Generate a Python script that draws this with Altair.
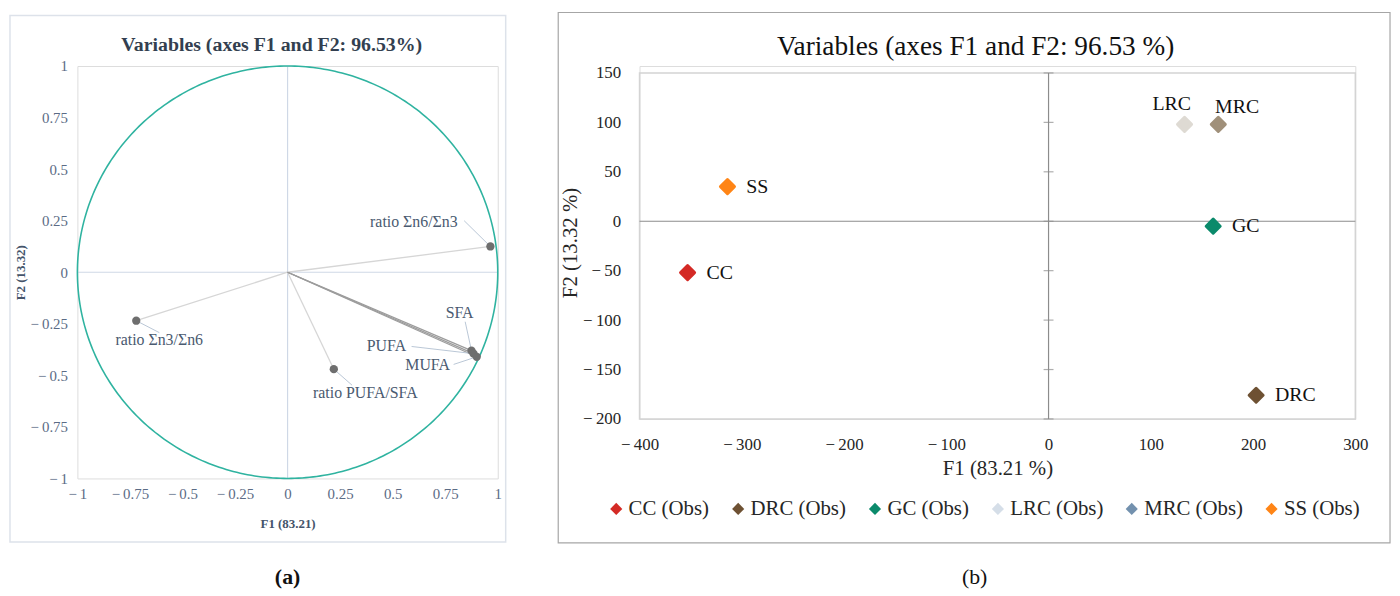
import altair as alt
import numpy as np
import pandas as pd

SERIF = "Liberation Serif"

# ---------------- Panel (a): correlation circle ----------------
var_names = ["ratio Σn6/Σn3", "ratio Σn3/Σn6", "ratio PUFA/SFA", "SFA", "PUFA", "MUFA"]
var_f1 = [0.965, -0.72, 0.22, 0.875, 0.885, 0.90]
var_f2 = [0.125, -0.235, -0.47, -0.38, -0.395, -0.41]
# leader-line anchor points on the label side (data units)
lead_f1 = [0.84, -0.61, 0.307, 0.845, 0.59, 0.79]
lead_f2 = [0.25, -0.293, -0.548, -0.24, -0.36, -0.447]
a_ticks = [-1, -0.75, -0.5, -0.25, 0, 0.25, 0.5, 0.75, 1]

# ---------------- Panel (b): observations ----------------
obs_names = ["CC", "DRC", "GC", "LRC", "MRC", "SS"]
obs_f1 = [-353, 203, 161, 133, 166, -314]
obs_f2 = [-52, -176, -5, 98, 98, 35]
point_colors = ["#D42A25", "#6E5133", "#0B8A6B", "#DEDAD3", "#A0907A", "#FF8516"]
legend_colors = ["#D42A25", "#6E5133", "#0B8A6B", "#D5DEE8", "#7391AE", "#FF8516"]
b_xticks = [-400, -300, -200, -100, 0, 100, 200, 300]
b_yticks = [-200, -150, -100, -50, 0, 50, 100, 150]

var_df = pd.DataFrame({"name": var_names, "f1": var_f1, "f2": var_f2,
                       "lx": lead_f1, "ly": lead_f2})
t = np.linspace(0, 2 * np.pi, 361)
circle_df = pd.DataFrame({"cx": np.cos(t), "cy": np.sin(t), "o": np.arange(len(t))})
obs_df = pd.DataFrame({"name": obs_names, "f1": obs_f1, "f2": obs_f2, "pcol": point_colors})
one = pd.DataFrame({"k": [0]})

MINUS = "datum.value < 0 ? '\u2212\u2009' + abs(datum.value) : '' + datum.value"

# ---------- panel (a) ----------
A_W, A_H = 424, 416
a_lab = "#4A5A70"
ax_a_x = alt.Axis(values=a_ticks, labelExpr=MINUS, domain=False, ticks=False, grid=False,
                  labelFlush=False, labelFont=SERIF, labelFontSize=15, labelColor="#5B6B85",
                  labelPadding=8, title="F1 (83.21)", titleFont=SERIF, titleFontSize=13,
                  titleFontWeight="bold", titleColor="#44546A", titlePadding=16)
ax_a_y = alt.Axis(values=a_ticks, labelExpr=MINUS, domain=False, ticks=False, grid=False,
                  labelFlush=False, labelFont=SERIF, labelFontSize=15, labelColor="#5B6B85",
                  labelPadding=10, title="F2 (13.32)", titleFont=SERIF, titleFontSize=13,
                  titleFontWeight="bold", titleColor="#44546A", titlePadding=3)
sx_a = alt.Scale(domain=[-1, 1], nice=False, zero=False)
sy_a = alt.Scale(domain=[-1, 1], nice=False, zero=False)


def XA(field=None, datum=None):
    if datum is not None:
        return alt.X(datum=datum, type="quantitative", scale=sx_a, axis=ax_a_x)
    return alt.X(field, type="quantitative", scale=sx_a, axis=ax_a_x)


def YA(field=None, datum=None):
    if datum is not None:
        return alt.Y(datum=datum, type="quantitative", scale=sy_a, axis=ax_a_y)
    return alt.Y(field, type="quantitative", scale=sy_a, axis=ax_a_y)


a_frame = alt.Chart(one).mark_rect(fillOpacity=0, stroke="#DDE2EA", strokeWidth=1.5).encode(
    x=alt.value(-68), x2=alt.value(432), y=alt.value(-51), y2=alt.value(480))
a_title = alt.Chart(one).mark_text(font=SERIF, fontSize=20, fontWeight="bold", color="#333F50").encode(
    x=alt.value(196), y=alt.value(-21), text=alt.value("Variables (axes F1 and F2: 96.53%)"))
a_caption = alt.Chart(one).mark_text(font=SERIF, fontSize=22, fontWeight="bold", color="#111111").encode(
    x=alt.value(212), y=alt.value(515), text=alt.value("(a)"))

zero_v = alt.Chart(one).mark_rule(color="#CFD8E6", strokeWidth=1.2).encode(
    x=XA(datum=0), y=YA(datum=-1), y2=alt.Y2(datum=1))
zero_h = alt.Chart(one).mark_rule(color="#CFD8E6", strokeWidth=1.2).encode(
    x=XA(datum=-1), x2=alt.X2(datum=1), y=YA(datum=0))
circle = alt.Chart(circle_df).mark_line(color="#2FB3A0", strokeWidth=1.6).encode(
    x=XA("cx"), y=YA("cy"), order="o:Q")
vectors = alt.Chart(var_df).mark_rule(strokeWidth=1.3).encode(
    x=XA("f1"), y=YA("f2"), x2=alt.X2(datum=0), y2=alt.Y2(datum=0),
    color=alt.condition(alt.FieldOneOfPredicate(field="name", oneOf=["SFA", "PUFA", "MUFA"]),
                        alt.value("#9C9C9C"), alt.value("#D6D6D6")))
leaders = alt.Chart(var_df).mark_rule(strokeWidth=1, color="#B9C6D6").encode(
    x=XA("f1"), y=YA("f2"), x2="lx:Q", y2="ly:Q")
var_pts = alt.Chart(var_df).mark_circle(size=70, color="#6E6E6E", opacity=1).encode(
    x=XA("f1"), y=YA("f2"))

a_label_style = {
    "ratio Σn6/Σn3": dict(align="right", dx=-33, dy=-25),
    "ratio Σn3/Σn6": dict(align="left", dx=-21, dy=20),
    "ratio PUFA/SFA": dict(align="left", dx=-21, dy=24),
    "SFA": dict(align="center", dx=-12, dy=-38),
    "PUFA": dict(align="right", dx=-68, dy=-8),
    "MUFA": dict(align="right", dx=-27, dy=8),
}
a_labels = []
for nm, st in a_label_style.items():
    a_labels.append(
        alt.Chart(var_df).transform_filter(alt.datum.name == nm).mark_text(
            font=SERIF, fontSize=16, color=a_lab, baseline="middle", **st).encode(
            x=XA("f1"), y=YA("f2"), text="name:N"))

panel_a = alt.layer(a_frame, zero_v, zero_h, circle, vectors, leaders, var_pts, *a_labels,
                    a_title, a_caption).properties(width=A_W, height=A_H)

# ---------- panel (b) ----------
B_W, B_H = 722, 356
sx_b = alt.Scale(domain=[-400, 300], nice=False, zero=False)
sy_b = alt.Scale(domain=[-200, 157], nice=False, zero=False)
ax_b_x = alt.Axis(values=b_xticks, labelExpr=MINUS, domain=False, ticks=False, grid=False,
                  labelFlush=False, labelFont=SERIF, labelFontSize=17, labelColor="#262626",
                  labelPadding=18, title="F1 (83.21 %)", titleFont=SERIF, titleFontSize=21,
                  titleFontWeight="normal", titleColor="#262626", titlePadding=5)
ax_b_y = alt.Axis(values=b_yticks, labelExpr=MINUS, domain=False, ticks=False, grid=False,
                  labelFlush=False, labelFont=SERIF, labelFontSize=17, labelColor="#262626",
                  labelPadding=19, title="F2 (13.32 %)", titleFont=SERIF, titleFontSize=21,
                  titleFontWeight="normal", titleColor="#262626", titlePadding=2)


def XB(field=None, datum=None):
    if datum is not None:
        return alt.X(datum=datum, type="quantitative", scale=sx_b, axis=ax_b_x)
    return alt.X(field, type="quantitative", scale=sx_b, axis=ax_b_x)


def YB(field=None, datum=None):
    if datum is not None:
        return alt.Y(datum=datum, type="quantitative", scale=sy_b, axis=ax_b_y)
    return alt.Y(field, type="quantitative", scale=sy_b, axis=ax_b_y)


b_frame = alt.Chart(one).mark_rect(fillOpacity=0, stroke="#A6A6A6", strokeWidth=1.2).encode(
    x=alt.value(-82), x2=alt.value(757), y=alt.value(-54), y2=alt.value(481))
b_title = alt.Chart(one).mark_text(font=SERIF, fontSize=27.5, color="#111111").encode(
    x=alt.value(339), y=alt.value(-19), text=alt.value("Variables (axes F1 and F2: 96.53 %)"))
b_caption = alt.Chart(one).mark_text(font=SERIF, fontSize=22, color="#111111").encode(
    x=alt.value(338), y=alt.value(515), text=alt.value("(b)"))

plot_border = alt.Chart(one).mark_rect(fillOpacity=0, stroke="#D4D4D4", strokeWidth=1.5).encode(
    x=XB(datum=-400), x2=alt.X2(datum=300), y=YB(datum=-200), y2=alt.Y2(datum=150))
b_zero_v = alt.Chart(one).mark_rule(color="#8C8C8C", strokeWidth=1.2).encode(
    x=XB(datum=0), y=YB(datum=-200), y2=alt.Y2(datum=150))
b_zero_h = alt.Chart(one).mark_rule(color="#8C8C8C", strokeWidth=1.2).encode(
    x=XB(datum=-400), x2=alt.X2(datum=300), y=YB(datum=0))
cross_ticks = alt.Chart(pd.DataFrame({"v": b_yticks, "z": [0] * len(b_yticks)})).mark_tick(
    orient="horizontal", size=10, thickness=1.2, color="#8C8C8C").encode(
    x=XB("z"), y=YB("v"))

legend_layer = alt.Chart(obs_df).mark_point(shape="diamond", filled=True, opacity=0, size=10).encode(
    x=XB("f1"), y=YB("f2"),
    color=alt.Color("name:N", scale=alt.Scale(domain=obs_names, range=legend_colors),
                    legend=alt.Legend(title=None, orient="none", legendX=-34, legendY=436,
                                      direction="horizontal", symbolType="diamond",
                                      symbolSize=150, symbolOpacity=1, symbolStrokeWidth=0,
                                      labelFont=SERIF, labelFontSize=21, labelColor="#262626",
                                      labelExpr="datum.label + ' (Obs)'", labelLimit=300,
                                      labelOffset=2, columnPadding=18, padding=0)))
obs_pts = alt.Chart(obs_df).mark_point(shape="diamond", filled=True, opacity=1, size=200,
                                       strokeWidth=3, strokeJoin="round").encode(
    x=XB("f1"), y=YB("f2"), color=alt.Color("pcol:N", scale=None),
    stroke=alt.Stroke("pcol:N", scale=None))

b_label_style = {
    "right": (["CC", "DRC", "GC", "SS"], dict(align="left", dx=19, dy=0)),
    "lrc": (["LRC"], dict(align="center", dx=-13, dy=-20)),
    "mrc": (["MRC"], dict(align="center", dx=19, dy=-17)),
}
b_labels = []
for key, (names, st) in b_label_style.items():
    b_labels.append(
        alt.Chart(obs_df).transform_filter(alt.FieldOneOfPredicate(field="name", oneOf=names)).mark_text(
            font=SERIF, fontSize=20, color="#111111", baseline="middle", **st).encode(
            x=XB("f1"), y=YB("f2"), text="name:N"))

panel_b = alt.layer(b_frame, plot_border, b_zero_v, b_zero_h, cross_ticks, legend_layer, obs_pts,
                    *b_labels, b_title, b_caption).resolve_scale(
    color="independent", stroke="independent").properties(width=B_W, height=B_H)

chart = alt.hconcat(panel_a, panel_b, spacing=49).properties(padding=0).configure_view(
    strokeWidth=0).configure(background="white")

chart.save("out.html", embed_options={"renderer": "svg", "actions": False})
